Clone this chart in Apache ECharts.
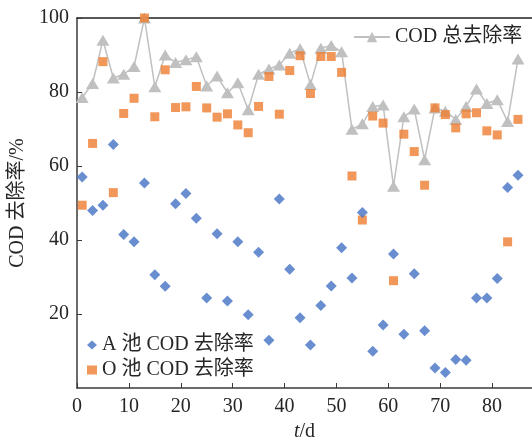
<!DOCTYPE html>
<html lang="zh">
<head>
    <meta charset="UTF-8">
    <title>COD 去除率</title>
</head>
<body style="margin:0;background:#fff">
<div id="main" style="width:532px;height:447px"></div>
<script src="https://cdn.jsdelivr.net/npm/echarts@6/dist/echarts.min.js"></script>
<script>
    var days = [1, 3, 5, 7, 9, 11, 13, 15, 17, 19, 21, 23, 25, 27, 29, 31, 33, 35, 37, 39, 41, 43,
        45, 47, 49, 51, 53, 55, 57, 59, 61, 63, 65, 67, 69, 71, 73, 75, 77, 79, 81, 83, 85];
    // COD 总去除率
    var totalRate = [78.5, 82.3, 94, 83.8, 84.8, 86.9, 100, 81.4, 90, 88, 88.7, 89.5, 81.6, 84.3, 79.8,
        82.5, 75.2, 84.8, 86.2, 87.3, 90.5, 91.7, 82, 91.8, 92.6, 90.9, 69.9, 71.4, 76.1, 76.5, 54.5,
        73.3, 75.4, 61.7, 75.7, 74.8, 72.6, 76.1, 80.8, 76.9, 77.9, 72, 88.9];
    // A 池
    var aRate = [57, 48, 49.4, 65.8, 41.5, 39.5, 55.4, 30.6, 27.5, 49.8, 52.6, 45.9, 24.3, 41.7, 23.5,
        39.5, 19.8, 36.7, 12.9, 51.1, 32.1, 19, 11.6, 22.3, 27.6, 37.9, 29.7, 47.4, 9.9, 17, 36.2,
        14.5, 30.9, 15.5, 5.4, 4.2, 7.7, 7.5, 24.3, 24.3, 29.6, 54.2, 57.5];
    // O 池
    var oRate = [49.4, 66.1, 88.2, 52.8, 74.2, 78.3, 100, 73.3, 86, 75.8, 76, 81.5, 75.7, 73.2, 74.1,
        71.1, 69, 76.1, 84.2, 74, 85.8, 89.8, 79.6, 89.6, 89.6, 85.3, 57.3, 45.4, 73.5, 71.6, 29,
        68.6, 63.9, 54.8, 75.7, 73.9, 70.3, 74.1, 74.4, 69.5, 68.4, 39.5, 72.6];

    function pairs(vals) {
        return days.map(function (d, i) { return [d, vals[i]]; });
    }

    var font = 'Liberation Serif, Noto Sans CJK SC';
    var txt = '#262626';
    var axisCol = '#3a3a3a';

    var myChart = echarts.init(document.getElementById('main'));
    var option = {
        animation: false,
        textStyle: {fontFamily: font, color: txt},
        grid: {left: 77, right: 0, top: 18, bottom: 51},
        legend: [{
            data: ['COD 总去除率'],
            left: 348, top: 22,
            itemWidth: 36, itemHeight: 13,
            textStyle: {fontFamily: font, fontSize: 20, color: txt}
        }, {
            data: ['A 池 COD 去除率', 'O 池 COD 去除率'],
            orient: 'vertical',
            left: 82, top: 329,
            itemWidth: 10, itemHeight: 9, itemGap: 3,
            textStyle: {fontFamily: font, fontSize: 20, color: txt, lineHeight: 22}
        }],
        xAxis: [{
            type: 'value',
            min: 0, max: 87.7, interval: 10,
            name: '{i|t}/d',
            nameLocation: 'middle',
            nameGap: 34,
            nameTextStyle: {
                fontSize: 20, color: txt, fontFamily: font,
                rich: {i: {fontStyle: 'italic', fontSize: 20, fontFamily: font, color: txt}}
            },
            axisLine: {lineStyle: {color: axisCol, width: 1.5}},
            axisTick: {inside: true, length: 5, lineStyle: {color: axisCol}},
            axisLabel: {fontSize: 20, color: txt, margin: 9, showMaxLabel: false},
            splitLine: {show: false}
        }, {
            type: 'value',
            position: 'top',
            min: 0, max: 87.7,
            axisLine: {show: true, onZero: false, lineStyle: {color: '#222', width: 1.5}},
            axisTick: {show: false},
            axisLabel: {show: false},
            splitLine: {show: false}
        }],
        yAxis: {
            type: 'value',
            min: 0, max: 100, interval: 20,
            name: 'COD 去除率/%',
            nameLocation: 'middle',
            nameGap: 48,
            nameTextStyle: {fontSize: 20, color: txt, fontFamily: font},
            axisLine: {show: true, lineStyle: {color: axisCol, width: 1.5}},
            axisTick: {show: true, inside: true, length: 5, lineStyle: {color: axisCol}},
            axisLabel: {fontSize: 20, color: txt, margin: 8, showMinLabel: false},
            splitLine: {show: false}
        },
        series: [{
            name: 'COD 总去除率',
            type: 'line',
            data: pairs(totalRate),
            symbol: 'triangle',
            symbolSize: [13, 11],
            lineStyle: {color: '#c0c0c0', width: 1.5},
            itemStyle: {color: '#c0c0c0'},
            z: 1
        }, {
            name: 'O 池 COD 去除率',
            type: 'scatter',
            data: pairs(oRate),
            symbol: 'rect',
            symbolSize: 9,
            itemStyle: {color: '#ED7D31'},
            z: 2
        }, {
            name: 'A 池 COD 去除率',
            type: 'scatter',
            data: pairs(aRate),
            symbol: 'diamond',
            symbolSize: 11,
            itemStyle: {color: '#4472C4'},
            z: 3
        }]
    };
    myChart.setOption(option);
</script>
</body>
</html>
